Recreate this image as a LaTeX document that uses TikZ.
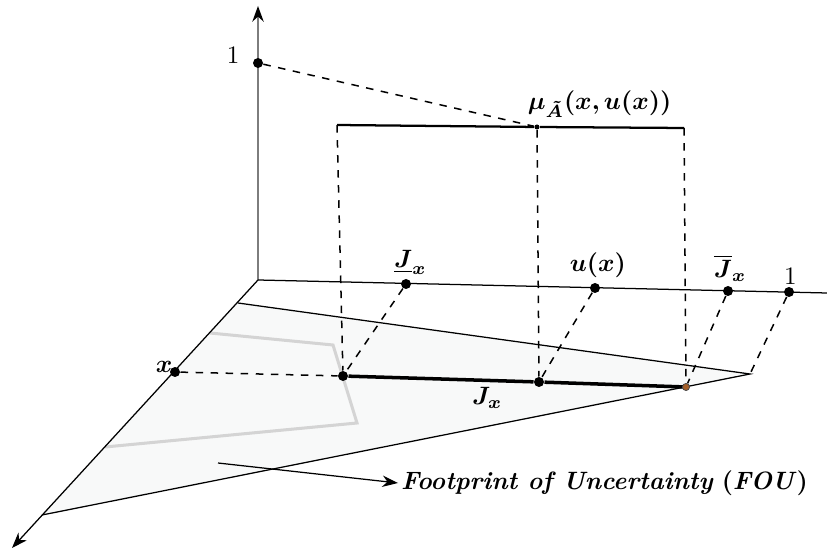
\documentclass[tikz,border=0pt]{standalone}
\usepackage{amsmath,amssymb,bm}
\usetikzlibrary{arrows.meta,positioning,calc}
\definecolor{axisgray}{RGB}{125,125,125}
\definecolor{foufill}{RGB}{248,249,249}
\definecolor{fouedge}{RGB}{212,212,212}
\definecolor{rustdot}{RGB}{165,95,40}
\tikzset{
  bigdot/.style={circle, fill=black, inner sep=0pt, minimum size=0.14cm},
  smalldot/.style={circle, fill=black, inner sep=0pt, minimum size=0.07cm},
  rustpoint/.style={circle, fill=rustdot, draw=black!70, line width=0.3pt, inner sep=0pt, minimum size=0.1cm},
  axisline/.style={line width=0.5pt, black},
  guide/.style={dashed, line width=0.6pt, black},
  label/.style={inner sep=1pt, font=\normalsize},
  arrowtip/.style={-{Stealth[length=2.2mm, width=1.6mm, black]}},
}

\begin{document}
\begin{tikzpicture}[x=0.014cm, y=-0.014cm]
\useasboundingbox (0,0) rectangle (827,552);
% axes
\coordinate (O) at (258,280);
\coordinate (ztip) at (258,6);
\coordinate (xtip) at (12,548);
\coordinate (utip) at (827,293);
% footprint of uncertainty
\coordinate (fa) at (238,303);
\coordinate (fb) at (750,374);
\coordinate (fc) at (42,515);
\fill[foufill] (fa) -- (fb) -- (fc) -- cycle;
\draw[fouedge, line width=1.2pt] (210,333) -- (333,345) -- (357,423) -- (105,447);
\draw[axisline] (fa) -- (fb) -- (fc);
\draw[axisline, axisgray, arrowtip] (O) -- (ztip);
\draw[axisline, arrowtip] (O) -- (xtip);
\draw[axisline] (O) -- (utip);
% points
\node[bigdot] (one) at (258,63) {};
\node[bigdot] (xpt) at (175,372) {};
\node[bigdot] (ju) at (406,284) {};
\node[bigdot] (ux) at (595,288) {};
\node[bigdot] (jo) at (728,291) {};
\node[bigdot] (uone) at (789,292) {};
\node[bigdot] (jl) at (343,376) {};
\node[bigdot] (jm) at (539,382) {};
\coordinate (tl) at (337,125);
\coordinate (tr) at (684,128);
\node[smalldot] (tm) at (537,127) {};
% secondary membership
\draw[line width=0.9pt] (tl) -- (tm) -- (tr);
\draw[line width=1.4pt] (jl) -- (jm) -- (686,387) node[rustpoint] (jr) {};
% projections
\draw[guide] (one) -- (tm);
\draw[guide] (xpt) -- (jl);
\foreach \a/\b in {tl/jl, tm/jm, tr/jr, ju/jl, ux/jm, jo/jr, uone/fb}
  \draw[guide] (\a) -- (\b);
% labels
\node[label, left=0.14cm of one, yshift=0.1cm] {$1$};
\node[label, above left=-0.1cm and -0.06cm of xpt] {$\bm{x}$};
\node[label, above=0.02cm of ju, xshift=0.06cm] {$\underline{\bm{J}}_{\bm{x}}$};
\node[label, above=0.02cm of ux, xshift=0.04cm] {$\bm{u(x)}$};
\node[label, above=0.02cm of jo, xshift=0.03cm] {$\overline{\bm{J}}_{\bm{x}}$};
\node[label, above=-0.02cm of uone, xshift=0.02cm] {$1$};
\node[label, above right=0.06cm and -0.2cm of tm] {$\bm{\mu_{\tilde{A}}(x,u(x))}$};
\path (jl) -- (jm) node[label, pos=0.75, below=0.06cm] {$\bm{J_x}$};
\coordinate (foustart) at (218,463);
\node[label, anchor=west] (fou) at (398,483) {\textbf{\textit{Footprint of Uncertainty}} $\bm{(}$\textbf{\textit{FOU}}$\bm{)}$};
\draw[line width=0.5pt, arrowtip] (foustart) -- (fou.west);
\end{tikzpicture}
\end{document}
